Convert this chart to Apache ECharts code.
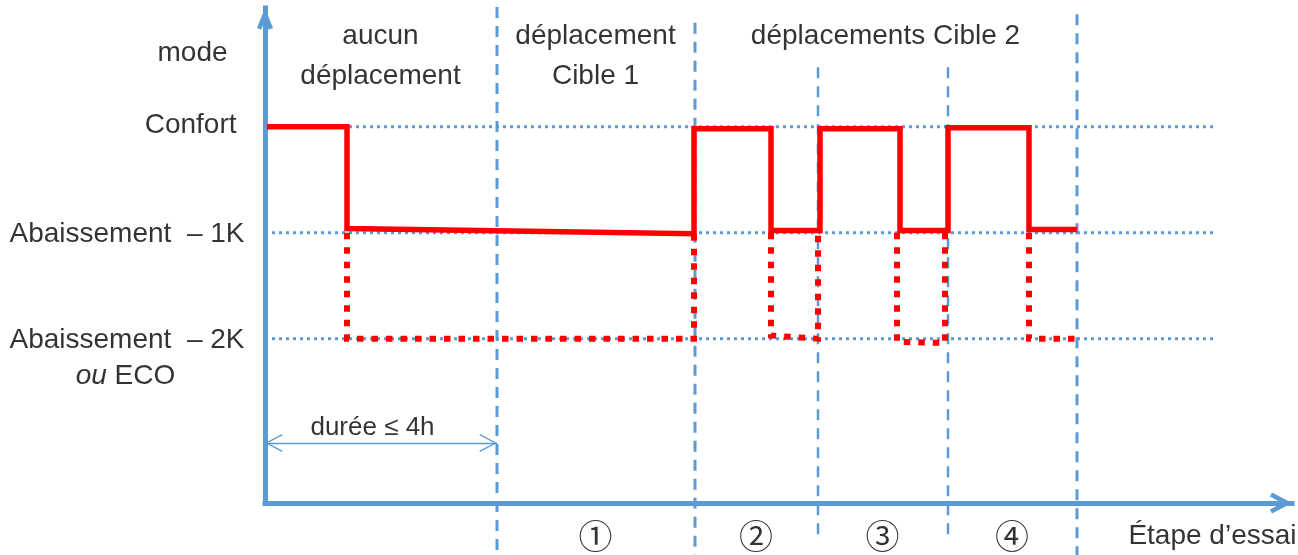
<!DOCTYPE html>
<html>
<head>
<meta charset="utf-8">
<script src="https://cdn.jsdelivr.net/npm/echarts@6/dist/echarts.min.js"></script>
<style>
  html, body { margin: 0; padding: 0; background: #fff; }
  #chart { width: 1298px; height: 555px; }
</style>
</head>
<body>
<div id="chart"></div>
<script>
// niveaux : 3 = Confort, 2 = -1K, 1 = -2K / ECO ; temps en unités arbitraires
const levelValues = [3, 2, 1]
const levelNames = ['Confort', 'Abaissement  – 1K', 'Abaissement  – 2K']
const stageBounds = [0, 23.2, 43.0, 55.3, 68.3, 81.2]
const boundaryTop = [4.13, 3.98, 3.56, 3.56, 4.06]
const boundaryBottom = [-1.05, -1.05, -0.86, -0.86, -1.05]
const periodNames = ['aucun\ndéplacement', 'déplacement\nCible 1', 'déplacements Cible 2']
const periodRanges = [[0, 23.2], [23.2, 43.0], [43.0, 81.2]]
const stepNames = ['①', '②', '③', '④']
const guideRange = [-0.7, 94.8]
const dureeSpan = [0, 23.2]

// trait plein : abaissement -1K
const solidT = [0.2, 8.2, 8.2, 42.9, 42.9, 50.6, 50.6, 55.5, 55.5, 63.5, 63.5, 68.3, 68.3, 76.4, 76.4, 81.2]
const solidY = [3.0, 3.0, 2.04, 1.99, 2.98, 2.98, 2.02, 2.02, 2.98, 2.98, 2.02, 2.02, 2.99, 2.99, 2.03, 2.03]

// pointillés : abaissement -2K ou ECO
const dotT = [
  [8.2, 8.2, 42.9, 42.9],
  [50.6, 50.6, 55.3, 55.3],
  [63.2, 63.2, 68.0, 68.0],
  [76.4, 76.4, 81.2]
]
const dotY = [
  [2.0, 1.0, 1.0, 1.99],
  [2.0, 1.03, 1.0, 2.0],
  [2.0, 0.97, 0.96, 2.0],
  [2.0, 1.0, 1.0]
]

const BLUE = '#5B9BD5'
const RED = '#FF0000'
const FONT = '"Liberation Sans", Arial, sans-serif'

// flèche ouverte, pointe au centre de la boîte du symbole
function chevron(w, h, t) {
  const len = Math.hypot(w, h)
  const d = t * len / w
  const px = t * h / len, py = t * w / len
  const H = h + py
  const path = 'path://M' + w + ',0L' + (w + 0.01) + ',0L' + w + ',0.01Z' +
    'M' + w + ',' + H + 'L' + (2 * w) + ',' + (H + h) + 'L' + (2 * w - px) + ',' + (2 * H) +
    'L' + w + ',' + (H + d) + 'L' + px + ',' + (2 * H) + 'L0,' + (H + h) + 'Z'
  return { path: path, size: [2 * w, 2 * H] }
}

const xArrow = chevron(10.5, 20, 4.5)
const yArrow = chevron(8, 20, 4.5)
const thinArrow = chevron(9, 17, 1.3)

const zip = (a, b) => a.map((v, i) => [v, b[i]])
const mid = r => (r[0] + r[1]) / 2

const textItems = []
periodNames.forEach((n, i) => textItems.push({
  name: n, value: [mid(periodRanges[i]), 4.04],
  label: { align: 'center', verticalAlign: 'top' }
}))
stepNames.forEach((n, i) => textItems.push({
  name: n, value: [mid([stageBounds[i + 1], stageBounds[i + 2]]), -0.87],
  label: { align: 'center', verticalAlign: 'middle', fontFamily: '"Noto Sans CJK SC", "DejaVu Sans"', fontSize: 34, lineHeight: 44 }
}))
levelNames.forEach((n, i) => textItems.push({
  name: n, value: [-2.0, levelValues[i]],
  label: { align: 'right', verticalAlign: 'middle', offset: i === 0 ? [-8, -1] : [0, 2] }
}))
textItems.push({ name: 'mode', value: [-7.2, 3.69], label: { align: 'center', verticalAlign: 'middle' } })
textItems.push({ name: '{i|ou} ECO', value: [-13.9, 0.64], label: { align: 'center', verticalAlign: 'middle' } })
textItems.push({ name: 'durée ≤ 4h', value: [mid(dureeSpan), 0.016], label: { align: 'center', verticalAlign: 'middle', offset: [-8, -15], fontSize: 26 } })
textItems.push({ name: 'Étape d’essai', value: [103.2, -0.87], label: { align: 'right', verticalAlign: 'middle' } })

const series = []

levelValues.forEach(v => series.push({
  type: 'line', clip: false, silent: true, symbol: 'none', z: 1,
  data: [[guideRange[0], v], [guideRange[1], v]],
  lineStyle: { color: BLUE, width: 3, type: [3, 4] }
}))

stageBounds.slice(1).forEach((b, i) => series.push({
  type: 'line', clip: false, silent: true, symbol: 'none', z: 1,
  data: [[b, boundaryTop[i]], [b, boundaryBottom[i]]],
  lineStyle: { color: BLUE, width: i === 2 || i === 3 ? 2.5 : 3, type: [11, 8] }
}))

dotT.forEach((seg, i) => series.push({
  type: 'line', clip: false, silent: true, symbol: 'none', z: 3,
  data: zip(seg, dotY[i]),
  lineStyle: { color: RED, width: 6, type: [6.5, 8], cap: 'butt', join: 'miter' }
}))

series.push({
  type: 'line', clip: false, silent: true, symbol: 'none', z: 4,
  data: zip(solidT, solidY),
  lineStyle: { color: RED, width: 5.5, join: 'miter', cap: 'butt' },
  markLine: {
    silent: true,
    symbol: [thinArrow.path, thinArrow.path],
    symbolSize: thinArrow.size,
    label: { show: false },
    lineStyle: { color: BLUE, width: 1.3, type: 'solid' },
    data: [[{ coord: [dureeSpan[0], 0.016] }, { coord: [dureeSpan[1], 0.016] }]]
  }
})

series.push({
  type: 'scatter', clip: false, silent: true, z: 5,
  symbolSize: 1,
  itemStyle: { color: 'transparent' },
  data: textItems,
  label: {
    show: true, position: [0, 0],
    color: '#000', fontFamily: FONT, fontSize: 28, lineHeight: 40,
    formatter: p => p.name,
    rich: { i: { fontStyle: 'italic', fontFamily: FONT, fontSize: 28, color: '#000' } }
  }
})

const chart = echarts.init(document.getElementById('chart'))
chart.setOption({
  animation: false,
  backgroundColor: '#fff',
  grid: { left: 265, right: 6, top: 8, bottom: 52 },
  xAxis: {
    type: 'value', min: 0, max: 102.7,
    axisLine: {
      onZero: false,
      symbol: ['none', xArrow.path], symbolSize: xArrow.size,
      lineStyle: { color: BLUE, width: 5, cap: 'square' }
    },
    axisTick: { show: false }, axisLabel: { show: false }, splitLine: { show: false }
  },
  yAxis: {
    type: 'value', min: -0.55, max: 4.12,
    axisLine: {
      show: true, onZero: false,
      symbol: ['none', yArrow.path], symbolSize: yArrow.size,
      lineStyle: { color: BLUE, width: 5, cap: 'square' }
    },
    axisTick: { show: false }, axisLabel: { show: false }, splitLine: { show: false }
  },
  series: series
})
</script>
</body>
</html>
